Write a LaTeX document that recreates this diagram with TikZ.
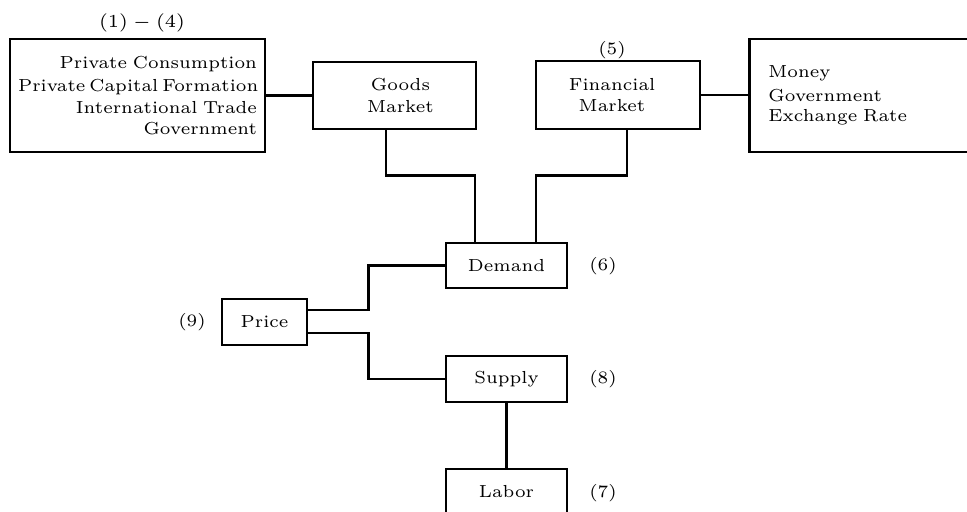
\documentclass[tikz,border=0pt]{standalone}
\usetikzlibrary{calc}
\newcommand\pxu{0.327pt}
\begin{document}
\begin{tikzpicture}[x=0.327pt,y=-0.327pt,
  font=\fontsize{5.7}{7.1}\selectfont,
  line width=0.95pt,
  box/.style={draw, line width=0.95pt, inner sep=0pt, align=center},
  lbl/.style={inner sep=0pt}]
\useasboundingbox (0,0) rectangle (967,511);
\clip (0,0) rectangle (967,511);
% boxes
\node[box, align=right, minimum width={255*\pxu}, minimum height={113*\pxu},
  text width={239*\pxu}, inner xsep={8*\pxu}] (comp) at (137.5,95.5)
  {\mbox{Private Consumption}\\[0.5pt]\mbox{Private\hspace{1.3pt}Capital\hspace{1.3pt}Formation}\\\mbox{International Trade}\\\mbox{Government}\hspace*{3.9pt}};
\node[box, minimum width={163*\pxu}, minimum height={67*\pxu}] (goods) at (394.5,95.5) {\hspace*{3.9pt}Goods\\\hspace*{3.9pt}Market};
\node[box, minimum width={164*\pxu}, minimum height={68*\pxu}] (fin) at (618,95) {Financial\hspace*{3.9pt}\\Market\hspace*{3.9pt}};
\node[box, anchor=west, align=left, minimum width={300*\pxu}, minimum height={113*\pxu},
  text width={262*\pxu}, inner xsep={19*\pxu}] (fact) at (748,95.5) {Money\\[0.9pt]Government\\[-0.6pt]Exchange Rate};
\node[box, minimum width={121*\pxu}, minimum height={45*\pxu}] (demand) at (506.5,265.5) {Demand};
\node[box, minimum width={85*\pxu}, minimum height={46*\pxu}] (price) at (264.5,322) {Price};
\node[box, minimum width={121*\pxu}, minimum height={46*\pxu}] (supply) at (506.5,379) {Supply};
\node[box, minimum width={121*\pxu}, minimum height={46*\pxu}] (labor) at (506.5,492) {Labor};
% labels
\node[lbl] (l14) at (142,23) {$(1)-(4)$};
\node[lbl] (l5) at (612,50) {(5)};
\node[lbl] (l6) at (603,266) {(6)};
\node[lbl] (l8) at (603,379) {(8)};
\node[lbl] (l7) at (603,493) {(7)};
\node[lbl] (l9) at (192,322) {(9)};
% connectors
\draw (comp) -- (goods);
\draw (fin.east) -- (fin.east -| fact.west);
\draw ($(goods.south)+(-8.5,0)$) -- ++(0,45) -| ($(demand.north)+(-31.5,0)$);
\draw ($(fin.south)+(9,0)$) -- ++(0,45) -| ($(demand.north)+(29.5,0)$);
\draw ($(price.east)+(0,-12)$) -- ++(60,0) |- (demand.west);
\draw ($(price.east)+(0,11)$) -- ++(60,0) |- (supply.west);
\draw (supply) -- (labor);
\end{tikzpicture}
\end{document}
